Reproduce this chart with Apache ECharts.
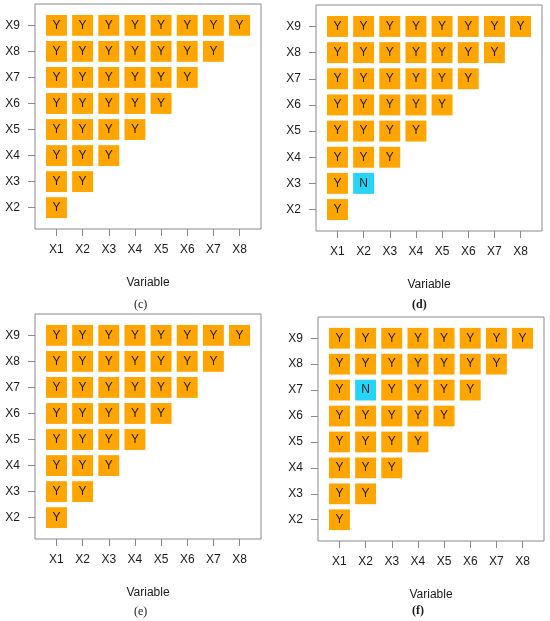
<!DOCTYPE html>
<html>
<head>
<meta charset="utf-8">
<script src="https://cdn.jsdelivr.net/npm/echarts@6/dist/echarts.min.js"></script>
<style>
  html, body { margin: 0; padding: 0; background: #fff; }
  #chart { width: 550px; height: 621px; }
</style>
</head>
<body>
<div id="chart"></div>
<script>
const xLabels = ['X1', 'X2', 'X3', 'X4', 'X5', 'X6', 'X7', 'X8']
const yLabels = ['X2', 'X3', 'X4', 'X5', 'X6', 'X7', 'X8', 'X9']

// rows from X2 (bottom) to X9 (top), each row lists cells from X1 onwards
const panelC = [
  ['Y'],
  ['Y', 'Y'],
  ['Y', 'Y', 'Y'],
  ['Y', 'Y', 'Y', 'Y'],
  ['Y', 'Y', 'Y', 'Y', 'Y'],
  ['Y', 'Y', 'Y', 'Y', 'Y', 'Y'],
  ['Y', 'Y', 'Y', 'Y', 'Y', 'Y', 'Y'],
  ['Y', 'Y', 'Y', 'Y', 'Y', 'Y', 'Y', 'Y']
]
const panelD = [
  ['Y'],
  ['Y', 'N'],
  ['Y', 'Y', 'Y'],
  ['Y', 'Y', 'Y', 'Y'],
  ['Y', 'Y', 'Y', 'Y', 'Y'],
  ['Y', 'Y', 'Y', 'Y', 'Y', 'Y'],
  ['Y', 'Y', 'Y', 'Y', 'Y', 'Y', 'Y'],
  ['Y', 'Y', 'Y', 'Y', 'Y', 'Y', 'Y', 'Y']
]
const panelE = [
  ['Y'],
  ['Y', 'Y'],
  ['Y', 'Y', 'Y'],
  ['Y', 'Y', 'Y', 'Y'],
  ['Y', 'Y', 'Y', 'Y', 'Y'],
  ['Y', 'Y', 'Y', 'Y', 'Y', 'Y'],
  ['Y', 'Y', 'Y', 'Y', 'Y', 'Y', 'Y'],
  ['Y', 'Y', 'Y', 'Y', 'Y', 'Y', 'Y', 'Y']
]
const panelF = [
  ['Y'],
  ['Y', 'Y'],
  ['Y', 'Y', 'Y'],
  ['Y', 'Y', 'Y', 'Y'],
  ['Y', 'Y', 'Y', 'Y', 'Y'],
  ['Y', 'N', 'Y', 'Y', 'Y', 'Y'],
  ['Y', 'Y', 'Y', 'Y', 'Y', 'Y', 'Y'],
  ['Y', 'Y', 'Y', 'Y', 'Y', 'Y', 'Y', 'Y']
]

const panels = [
  { rows: panelC, caption: '(c)', bold: false, grid: { left: 35, top: 4, width: 226, height: 225 }, capX: 137, capY: 304 },
  { rows: panelD, caption: '(d)', bold: true, grid: { left: 316, top: 5, width: 226, height: 226 }, capX: 415, capY: 304 },
  { rows: panelE, caption: '(e)', bold: false, grid: { left: 35, top: 314, width: 226, height: 225 }, capX: 137, capY: 611 },
  { rows: panelF, caption: '(f)', bold: true, grid: { left: 318, top: 317, width: 226, height: 224 }, capX: 415, capY: 610 }
]

const colorY = '#FFA500'
const colorN = '#25D4F6'
const boxColor = '#8a8a8a'
const font = 'Liberation Sans, Arial, sans-serif'
const tickVals = [1, 2, 3, 4, 5, 6, 7, 8]
const yTickVals = [2, 3, 4, 5, 6, 7, 8, 9]

const chart = echarts.init(document.getElementById('chart'), null, { renderer: 'canvas' })

function renderCell(params, api) {
  const c = api.coord([api.value(0), api.value(1)])
  const s = api.size([0.8, 0.8])
  const label = api.value(2)
  return {
    type: 'group',
    children: [
      {
        type: 'rect',
        shape: { x: c[0] - s[0] / 2, y: c[1] - s[1] / 2, width: s[0], height: s[1] },
        style: { fill: label === 'N' ? colorN : colorY }
      },
      {
        type: 'text',
        x: c[0],
        y: c[1],
        style: {
          text: label,
          fill: '#1a1a1a',
          font: '12px ' + font,
          align: 'center',
          verticalAlign: 'middle'
        }
      }
    ]
  }
}

const grids = []
const xAxes = []
const yAxes = []
const series = []
const titles = []

panels.forEach((p, i) => {
  grids.push(Object.assign({ show: true, borderColor: boxColor, borderWidth: 1, backgroundColor: '#fff', containLabel: false }, p.grid))
  xAxes.push({
    type: 'value',
    gridIndex: i,
    min: 0.18,
    max: 8.82,
    name: 'Variable',
    nameLocation: 'middle',
    nameGap: 48,
    nameTextStyle: { color: '#1a1a1a', fontSize: 12, fontFamily: font },
    axisLine: { show: false },
    splitLine: { show: false },
    axisTick: { show: true, length: 7, lineStyle: { color: boxColor }, customValues: tickVals },
    axisLabel: {
      margin: 15, color: '#1a1a1a', fontSize: 12, fontFamily: font,
      customValues: tickVals,
      formatter: v => xLabels[Math.round(v) - 1]
    }
  })
  yAxes.push({
    type: 'value',
    gridIndex: i,
    min: 1.18,
    max: 9.82,
    axisLine: { show: false },
    splitLine: { show: false },
    axisTick: { show: true, length: 7, lineStyle: { color: boxColor }, customValues: yTickVals },
    axisLabel: {
      margin: 15, color: '#1a1a1a', fontSize: 12, fontFamily: font,
      customValues: yTickVals,
      formatter: v => yLabels[Math.round(v) - 2]
    }
  })
  const data = []
  p.rows.forEach((row, r) => {
    row.forEach((lab, k) => {
      data.push([k + 1, r + 2, lab])
    })
  })
  series.push({
    type: 'custom',
    xAxisIndex: i,
    yAxisIndex: i,
    renderItem: renderCell,
    encode: { x: 0, y: 1 },
    data: data,
    silent: true
  })
  titles.push({
    text: p.caption,
    left: p.capX - 8,
    top: p.capY - 10,
    textStyle: { fontFamily: 'Liberation Serif, serif', fontSize: 12, fontWeight: p.bold ? 'bold' : 'normal', color: '#1a1a1a' }
  })
})

chart.setOption({
  backgroundColor: '#fff',
  animation: false,
  title: titles,
  grid: grids,
  xAxis: xAxes,
  yAxis: yAxes,
  series: series
})
</script>
</body>
</html>
